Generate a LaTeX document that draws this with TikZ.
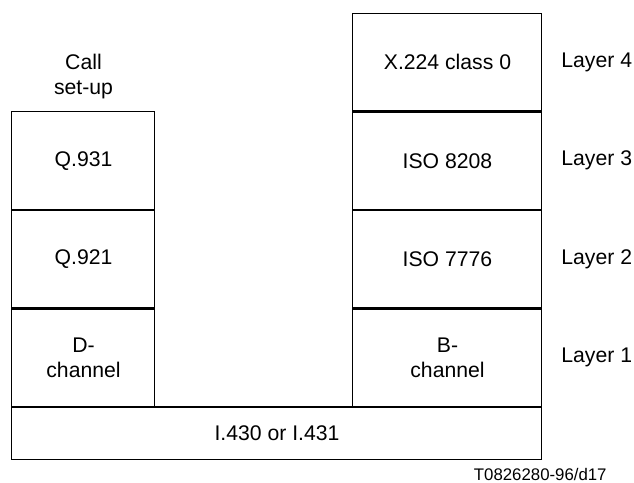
\documentclass[tikz,border=0pt]{standalone}
\usepackage{fontspec}
\setmainfont{Liberation Sans}
\usetikzlibrary{positioning}

\begin{document}
\begin{tikzpicture}[x=0.5pt,y=-0.5pt,every node/.style={font=\fontsize{10.6}{12.5}\selectfont},
  layerbox/.style={draw,line width=.5pt,outer sep=0pt,inner sep=0pt,minimum height=49.25pt,align=center},
  leftbox/.style={layerbox,minimum width=71.5pt},
  rightbox/.style={layerbox,minimum width=94.5pt},
  divider/.style={line width=1.1pt},
  layerlabel/.style={inner sep=0pt,right=9.5pt of #1}]
\useasboundingbox (0,0) rectangle (634,483);
% B-channel stack
\node[rightbox] (x224) at (447.5,62.25) {X.224 class 0};
\node[rightbox,below=0pt of x224] (iso8208) {ISO 8208};
\node[rightbox,below=0pt of iso8208] (iso7776) {ISO 7776};
\node[rightbox,below=0pt of iso7776] (bchan) {B-\\channel};
% D-channel stack
\node[leftbox] (q931) at (83.5,160.75) {Q.931};
\node[leftbox,below=0pt of q931] (q921) {Q.921};
\node[leftbox,below=0pt of q921] (dchan) {D-\\channel};
\node[align=center] (call) at (83.5,77) {Call\\set-up};
% physical interface
\node[draw,line width=.5pt,outer sep=0pt,minimum width=265pt,minimum height=26pt] (phys) at (277,433) {I.430 or I.431};
\draw[divider] (x224.south west) -- (x224.south east);
\draw[divider] (iso8208.south west) -- (iso8208.south east);
\draw[divider] (iso7776.south west) -- (iso7776.south east);
\draw[divider] (q931.south west) -- (q931.south east);
\draw[divider] (q921.south west) -- (q921.south east);
\draw[divider] (phys.north west) -- (phys.north east);
% layer names
\node[layerlabel=x224] (l4) {Layer 4};
\node[layerlabel=iso8208] (l3) {Layer 3};
\node[layerlabel=iso7776] (l2) {Layer 2};
\node[layerlabel=bchan] (l1) {Layer 1};
\node[anchor=east,inner sep=0pt,font=\fontsize{8.4}{10}\selectfont] (fig) at (607,474) {T0826280-96/d17};
\end{tikzpicture}
\end{document}
